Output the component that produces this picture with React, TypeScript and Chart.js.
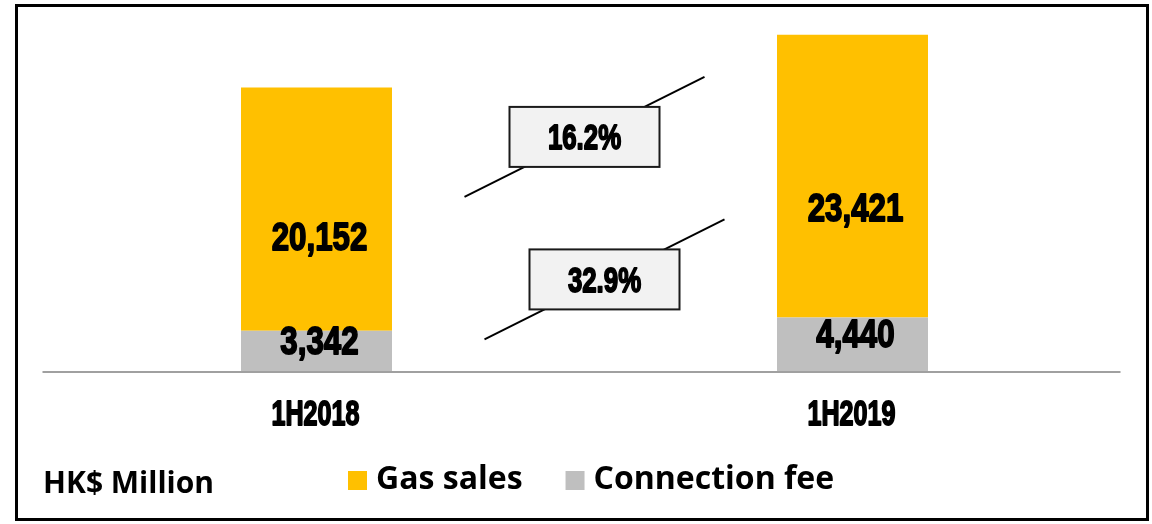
import React, { useEffect, useRef } from "react";
import { Chart, registerables } from "chart.js";

Chart.register(...registerables);

const categories = ["1H2018", "1H2019"];
const connectionFee = [3342, 4440];
const gasSales = [20152, 23421];
const seriesNames = ["Connection fee", "Gas sales"];
const legendOrder = ["Gas sales", "Connection fee"];
const growthLabels = ["16.2%", "32.9%"];
const unitLabel = "HK$ Million";

const YELLOW = "#FFC000";
const GRAY = "#BFBFBF";

// annotation layout (value anchors on y scale, pixel offsets from category midpoint)
const growthAnchorValues = [19400, 7590];
const growthAnchorDx = [0, 20];

function drawCondensed(
  ctx: CanvasRenderingContext2D,
  text: string,
  cx: number,
  cy: number,
  cap: number,
  sx: number
) {
  ctx.save();
  ctx.translate(cx, cy + cap / 2);
  ctx.scale(sx, 1);
  ctx.font = `bold ${cap / 0.716}px "Liberation Sans", Arial, sans-serif`;
  ctx.textAlign = "center";
  ctx.textBaseline = "alphabetic";
  ctx.fillStyle = "#000";
  ctx.strokeStyle = "#000";
  ctx.lineWidth = 1.8;
  ctx.lineJoin = "round";
  ctx.fillText(text, 0, 0);
  ctx.strokeText(text, 0, 0);
  ctx.restore();
}

const decorPlugin = {
  id: "decor",
  afterDatasetsDraw(chart: any) {
    const ctx: CanvasRenderingContext2D = chart.ctx;
    const xs = chart.scales.x;
    const ys = chart.scales.y;
    const area = chart.chartArea;

    // axis line
    ctx.save();
    ctx.strokeStyle = "#A0A0A0";
    ctx.lineWidth = 2;
    ctx.beginPath();
    ctx.moveTo(area.left - 6, area.bottom + 1);
    ctx.lineTo(area.right, area.bottom + 1);
    ctx.stroke();
    ctx.restore();

    // bar value labels
    chart.data.datasets.forEach((ds: any, di: number) => {
      const meta = chart.getDatasetMeta(di);
      meta.data.forEach((el: any, i: number) => {
        const v = ds.data[i];
        const top = el.y;
        const base = el.base;
        const cy = ds.label === "Gas sales" ? top + 0.61 * (base - top) : (top + base) / 2 - 11;
        drawCondensed(ctx, v.toLocaleString("en-US"), el.x + 3, cy, 28, 0.8);
      });
    });

    // category labels
    categories.forEach((c, i) => {
      const x = xs.getPixelForValue(i);
      drawCondensed(ctx, c, x - 1, area.bottom + 41.5, 25, 0.72);
    });

    // growth annotations
    const xMid = (xs.getPixelForValue(0) + xs.getPixelForValue(1)) / 2;
    growthLabels.forEach((g, i) => {
      const cx = xMid + growthAnchorDx[i];
      const cy = ys.getPixelForValue(growthAnchorValues[i]);
      ctx.save();
      ctx.strokeStyle = "#000";
      ctx.lineWidth = 2;
      ctx.beginPath();
      ctx.moveTo(cx - 120, cy + 60);
      ctx.lineTo(cx + 120, cy - 60);
      ctx.stroke();
      const w = 150;
      const h = 60;
      ctx.fillStyle = "#F2F2F2";
      ctx.fillRect(cx - w / 2, cy - h / 2, w, h);
      ctx.strokeStyle = "#1a1a1a";
      ctx.lineWidth = 2;
      ctx.strokeRect(cx - w / 2, cy - h / 2, w, h);
      ctx.restore();
      drawCondensed(ctx, g, cx, cy, 25, 0.74);
    });

    // unit label + legend
    ctx.save();
    ctx.textBaseline = "alphabetic";
    ctx.textAlign = "left";
    ctx.fillStyle = "#000";
    ctx.font = 'bold 30px "Open Sans", sans-serif';
    ctx.fillText(unitLabel, 43, 493);
    ctx.font = 'bold 32px "Open Sans", sans-serif';
    let lx = 348;
    legendOrder.forEach((name) => {
      const di = chart.data.datasets.findIndex((d: any) => d.label === name);
      const ds = chart.data.datasets[di];
      ctx.fillStyle = ds.backgroundColor;
      ctx.fillRect(lx, 471, 19, 19);
      ctx.fillStyle = "#000";
      ctx.fillText(name, lx + 28, 489);
      lx += 28 + ctx.measureText(name).width + 43;
    });
    ctx.restore();

    // outer frame
    ctx.save();
    ctx.strokeStyle = "#000";
    ctx.lineWidth = 3;
    ctx.strokeRect(16.5, 5.5, 1131, 514);
    ctx.restore();
  },
};

export default function App() {
  const ref = useRef<HTMLCanvasElement>(null);
  useEffect(() => {
    if (!ref.current) return;
    const chart = new Chart(ref.current, {
      type: "bar",
      data: {
        labels: categories,
        datasets: [
          {
            label: seriesNames[0],
            data: connectionFee,
            backgroundColor: GRAY,
            borderWidth: 0,
          },
          {
            label: seriesNames[1],
            data: gasSales,
            backgroundColor: YELLOW,
            borderWidth: 0,
          },
        ],
      },
      options: {
        animation: false,
        responsive: false,
        devicePixelRatio: 1,
        layout: { padding: { left: 48.5, right: 31.5, top: 9, bottom: 153 } },
        datasets: {
          bar: { barPercentage: 0.2817, categoryPercentage: 1 },
        },
        scales: {
          x: { stacked: true, display: false },
          y: { stacked: true, display: false, min: 0, max: 30000 },
        },
        plugins: {
          legend: { display: false },
          tooltip: { enabled: false },
        },
      },
      plugins: [decorPlugin],
    });
    return () => chart.destroy();
  }, []);
  return (
    <div style={{ position: "fixed", left: 0, top: 0, width: 1152, height: 524, background: "#fff" }}>
      <canvas ref={ref} width={1152} height={524} style={{ width: 1152, height: 524, display: "block" }} />
    </div>
  );
}
